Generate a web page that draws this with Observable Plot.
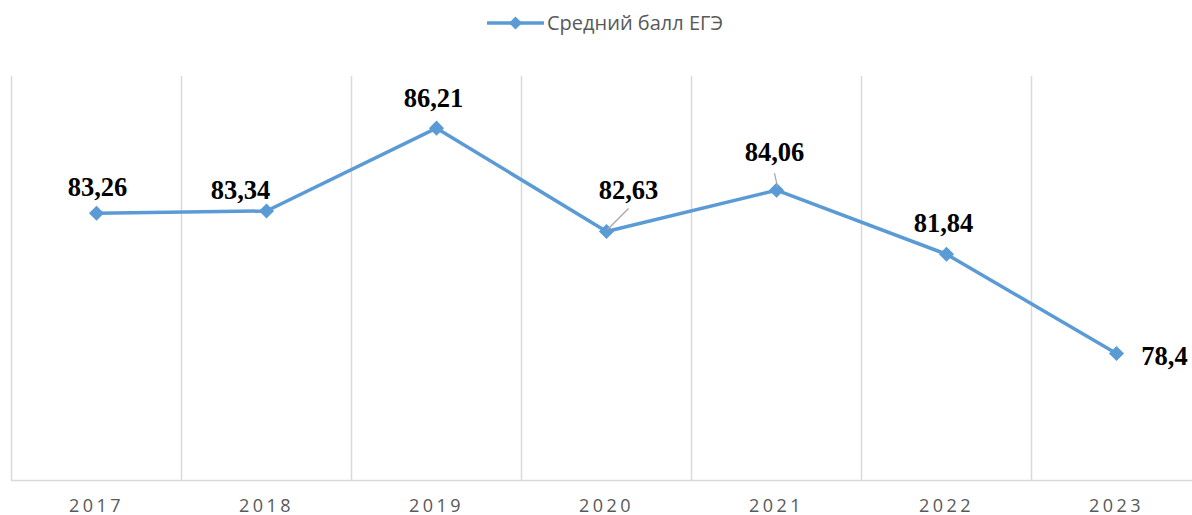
<!DOCTYPE html>
<html>
<head>
<meta charset="utf-8">
<script src="https://cdn.jsdelivr.net/npm/d3@7"></script>
<script src="https://cdn.jsdelivr.net/npm/@observablehq/plot@0.6"></script>
<style>
  html, body { margin: 0; padding: 0; background: #fff; }
  #legend { position: relative; height: 50px; width: 1192px; font-family: "Open Sans", sans-serif; }
  #legend svg { position: absolute; left: 487px; top: 16px; }
  #legend span { position: absolute; left: 547px; top: 10px; font-size: 20px; color: #595959; line-height: 26px; white-space: nowrap; }
  #chart svg [aria-label="x-axis tick label"] text { letter-spacing: 3.5px; }
</style>
</head>
<body>
<div id="legend">
  <svg width="57" height="14"><line x1="1" y1="7" x2="56" y2="7" stroke="#5b9bd5" stroke-width="3.5" stroke-linecap="round"/><path d="M28.5,0.5 L35,7 L28.5,13.5 L22,7 Z" fill="#5b9bd5"/></svg>
  <span>Средний балл ЕГЭ</span>
</div>
<div id="chart"></div>
<script>
const seriesName = "Средний балл ЕГЭ";
const years = ["2017", "2018", "2019", "2020", "2021", "2022", "2023"];
const values = [83.26, 83.34, 86.21, 82.63, 84.06, 81.84, 78.4];
const valueLabels = ["83,26", "83,34", "86,21", "82,63", "84,06", "81,84", "78,4"];

// label placement offsets (pixels) — styling only
const labelOffsets = [[1, -26], [-26, -20], [-3, -30], [22, -41], [-2, -38], [-3, -31], [48, 3]];
// leader lines for labels: [index, dxStartPx, dyStartPx, dxEndPx, dyEndPx]
const leaders = [[3, 1, -2, 22, -23], [4, 1, -3, -2, -17]];

const data = years.map((y, i) => ({year: y, idx: i + 0.5, value: values[i], label: valueLabels[i]}));

const color = "#5b9bd5";
const grid = "#d9d9d9";

const marks = [
  Plot.ruleX(d3.range(years.length), {x: d => d, y1: 74, y2: 88, stroke: grid, strokeWidth: 1.5}),
  Plot.ruleY([74], {x1: 0, x2: 7, stroke: grid, strokeWidth: 1.5}),
  Plot.line(data, {x: "idx", y: "value", stroke: color, strokeWidth: 3.5}),
  Plot.dot(data, {x: "idx", y: "value", symbol: "diamond2", r: 6.8, fill: color, stroke: null}),
  ...leaders.map(([i, x1, y1, x2, y2]) => {
    const px = 1190 / 7, py = 404 / 14;
    return Plot.link([data[i]], {
      x1: d => d.idx + x1 / px, y1: d => d.value - y1 / py,
      x2: d => d.idx + x2 / px, y2: d => d.value - y2 / py,
      stroke: "#a6a6a6", strokeWidth: 1.2
    });
  }),
  ...data.map((d, i) => Plot.text([d], {
    x: "idx", y: "value", text: "label",
    dx: labelOffsets[i][0], dy: labelOffsets[i][1],
    fontFamily: "Liberation Serif, Times New Roman, serif",
    fontWeight: "bold", fontSize: 26.5, fill: "#000", textAnchor: "middle", lineAnchor: "middle"
  })),
  Plot.axisX(years.map((d, i) => i + 0.5), {
    tickFormat: t => years[Math.round(t - 0.5)],
    tickSize: 0, tickPadding: 19, fontSize: 18, fill: "#595959", dx: 0,
    fontFamily: "Open Sans, sans-serif", label: null
  })
];

const chart = Plot.plot({
  width: 1192,
  height: 465,
  marginTop: 26,
  marginBottom: 35,
  marginLeft: 11,
  marginRight: 0,
  x: {type: "linear", domain: [0, 7], range: [11, 1201]},
  y: {domain: [74, 88], axis: null},
  style: {background: "#fff", overflow: "visible"},
  marks
});
document.getElementById("chart").appendChild(chart);
</script>
</body>
</html>
